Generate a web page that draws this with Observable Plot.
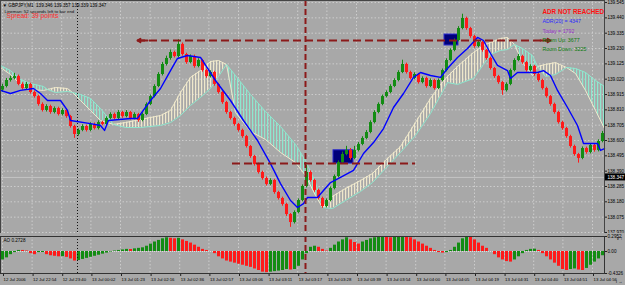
<!DOCTYPE html>
<html><head><meta charset="utf-8">
<script src="https://cdn.jsdelivr.net/npm/d3@7"></script>
<script src="https://cdn.jsdelivr.net/npm/@observablehq/plot@0.6"></script>
<style>
html,body{margin:0;padding:0;background:#a8a8a8;}
#chart{position:relative;width:625px;height:285px;overflow:hidden;background:#a8a8a8;}
#chart svg{position:absolute;left:0;display:block;overflow:visible;}
</style></head><body><div id="chart"></div>
<script>
// ---------- DATA ----------
const headerText = "▼ GBPJPY,M1  139.346 139.357 139.339 139.347";
const timerText = "Lineman: 52 seconds left to bar end";
const spreadText = "Spread: 39 points";
const infoLabels = ["ADR NOT REACHED", "ADR(20) = 4347", "Today = 1792", "Room Up: 3677", "Room Down: 3225"];
const aoLabel = "AO 0.2728";

const priceTicks = [139.545, 139.440, 139.335, 139.230, 139.125, 139.020, 138.915, 138.810, 138.705, 138.600, 138.495, 138.390, 138.285, 138.180, 138.075, 137.970];
const lastPrice = 138.347;
const aoTicks = [0.2952, 0, -0.4326];
const aoTickText = ["0.2952", "0.00", "-0.4326"];

const timeTicks = [0, 7.4, 14.8, 22.1, 29.5, 36.9, 44.3, 51.6, 59, 66.4, 73.8, 81.1, 88.5, 95.9, 103.3, 110.6, 118, 125.4, 132.8, 140.1, 147.5];
const timeLabels = ["12 Jul 2006", "12 Jul 22:54", "12 Jul 23:40", "13 Jul 00:02", "13 Jul 01:23", "13 Jul 02:16", "13 Jul 02:36", "13 Jul 02:57", "13 Jul 03:06", "13 Jul 03:11", "13 Jul 03:17", "13 Jul 03:28", "13 Jul 03:39", "13 Jul 03:54", "13 Jul 04:00", "13 Jul 04:05", "13 Jul 04:19", "13 Jul 04:31", "13 Jul 04:40", "13 Jul 04:51", "13 Jul 04:56"];

const opens = [138.945,
138.970,139.011,139.025,139.038,138.984,138.956,138.984,138.929,138.901,138.847,
138.806,138.833,138.792,138.819,138.778,138.806,138.764,138.696,138.641,138.669,
138.696,138.669,138.710,138.682,138.723,138.710,138.751,138.778,138.751,138.792,
138.764,138.792,138.751,138.778,138.737,138.778,138.847,138.901,138.970,139.052,
139.121,139.162,139.203,139.175,139.258,139.189,139.134,139.175,139.107,139.148,
139.079,139.038,139.066,138.984,138.929,138.860,138.792,138.751,138.710,138.669,
138.627,138.559,138.490,138.436,138.381,138.340,138.299,138.326,138.244,138.203,
138.162,138.093,138.038,138.107,138.189,138.285,138.381,138.326,138.258,138.203,
138.148,138.189,138.271,138.353,138.449,138.504,138.532,138.477,138.532,138.573,
138.614,138.655,138.723,138.792,138.847,138.901,138.929,138.970,139.011,139.066,
139.121,139.066,139.025,139.052,138.997,139.025,138.970,139.011,138.956,139.011,
139.079,139.148,139.217,139.285,139.367,139.436,139.367,139.312,139.244,139.271,
139.217,139.162,139.093,139.038,138.997,138.942,138.984,139.079,139.148,139.175,
139.134,139.079,139.107,139.052,139.011,138.956,138.901,138.847,138.792,138.723,
138.682,138.627,138.559,138.504,138.477,138.545,138.518,138.566,138.532,138.593];
const closes = [
138.970,139.011,139.025,139.038,138.984,138.956,138.984,138.929,138.901,138.847,
138.806,138.833,138.792,138.819,138.778,138.806,138.764,138.696,138.641,138.669,
138.696,138.669,138.710,138.682,138.723,138.710,138.751,138.778,138.751,138.792,
138.764,138.792,138.751,138.778,138.737,138.778,138.847,138.901,138.970,139.052,
139.121,139.162,139.203,139.175,139.258,139.189,139.134,139.175,139.107,139.148,
139.079,139.038,139.066,138.984,138.929,138.860,138.792,138.751,138.710,138.669,
138.627,138.559,138.490,138.436,138.381,138.340,138.299,138.326,138.244,138.203,
138.162,138.093,138.038,138.107,138.189,138.285,138.381,138.326,138.258,138.203,
138.148,138.189,138.271,138.353,138.449,138.504,138.532,138.477,138.532,138.573,
138.614,138.655,138.723,138.792,138.847,138.901,138.929,138.970,139.011,139.066,
139.121,139.066,139.025,139.052,138.997,139.025,138.970,139.011,138.956,139.011,
139.079,139.148,139.217,139.285,139.367,139.436,139.367,139.312,139.244,139.271,
139.217,139.162,139.093,139.038,138.997,138.942,138.984,139.079,139.148,139.175,
139.134,139.079,139.107,139.052,139.011,138.956,138.901,138.847,138.792,138.723,
138.682,138.627,138.559,138.504,138.477,138.545,138.518,138.566,138.532,138.593,
138.648];
const highs = [
138.985,139.025,139.040,139.060,139.048,138.995,138.998,138.992,138.940,138.910,
138.858,138.845,138.842,138.830,138.828,138.818,138.815,138.772,138.705,138.680,
138.708,138.705,138.722,138.720,138.735,138.732,138.762,138.790,138.788,138.805,
138.800,138.805,138.800,138.790,138.786,138.790,138.858,138.912,138.982,139.065,
139.135,139.178,139.220,139.212,139.290,139.268,139.198,139.186,139.185,139.160,
139.156,139.088,139.078,139.074,138.992,138.938,138.868,138.800,138.760,138.718,
138.678,138.635,138.566,138.498,138.445,138.390,138.350,138.338,138.334,138.252,
138.212,138.170,138.100,138.118,138.200,138.296,138.430,138.392,138.335,138.266,
138.212,138.200,138.282,138.364,138.460,138.520,138.560,138.545,138.560,138.586,
138.626,138.668,138.735,138.804,138.858,138.912,138.940,138.982,139.023,139.078,
139.150,139.130,139.075,139.064,139.060,139.036,139.034,139.022,139.020,139.022,
139.090,139.160,139.228,139.296,139.380,139.465,139.445,139.375,139.320,139.282,
139.280,139.225,139.170,139.100,139.046,139.005,138.995,139.090,139.160,139.190,
139.184,139.142,139.118,139.115,139.060,139.020,138.965,138.910,138.856,138.800,
138.732,138.690,138.636,138.568,138.512,138.556,138.555,138.578,138.575,138.605,
138.662];
const lows = [
138.930,138.960,139.000,139.015,138.975,138.945,138.945,138.918,138.890,138.835,
138.795,138.795,138.780,138.782,138.768,138.768,138.752,138.685,138.615,138.630,
138.660,138.658,138.660,138.672,138.672,138.700,138.700,138.742,138.740,138.742,
138.752,138.755,138.740,138.742,138.725,138.728,138.770,138.838,138.892,138.962,
139.042,139.110,139.150,139.165,139.165,139.178,139.122,139.125,139.095,139.098,
139.068,139.026,139.028,138.972,138.918,138.848,138.780,138.740,138.698,138.658,
138.615,138.548,138.478,138.425,138.370,138.328,138.288,138.290,138.232,138.192,
138.150,138.080,138.005,138.028,138.098,138.180,138.275,138.315,138.246,138.192,
138.135,138.138,138.180,138.262,138.344,138.440,138.495,138.466,138.468,138.522,
138.564,138.605,138.646,138.714,138.783,138.838,138.892,138.920,138.962,139.002,
139.058,139.055,139.014,139.016,138.986,138.988,138.958,138.962,138.945,138.948,
139.002,139.070,139.140,139.208,139.276,139.358,139.355,139.300,139.232,139.235,
139.205,139.150,139.082,139.026,138.985,138.910,138.932,138.975,139.070,139.140,
139.122,139.068,139.070,139.040,139.000,138.945,138.890,138.835,138.780,138.712,
138.670,138.615,138.548,138.492,138.445,138.468,138.506,138.508,138.520,138.522,
138.584];

const aoValues = [
-0.166,-0.125,-0.062,-0.021,0.021,0.021,0.010,-0.042,-0.062,-0.021,
-0.020,-0.062,-0.083,-0.094,-0.104,-0.100,-0.115,-0.146,-0.187,-0.177,
-0.156,-0.135,-0.114,-0.094,-0.073,-0.052,-0.031,-0.010,0.010,0.021,
0.031,0.042,0.040,0.052,0.062,0.073,0.104,0.146,0.187,0.218,
0.250,0.270,0.260,0.250,0.260,0.229,0.198,0.166,0.125,0.083,
0.042,0.021,0.000,-0.042,-0.104,-0.146,-0.187,-0.208,-0.229,-0.250,
-0.270,-0.291,-0.312,-0.343,-0.374,-0.406,-0.416,-0.406,-0.395,-0.385,
-0.374,-0.354,-0.364,-0.354,-0.291,-0.166,-0.042,0.083,0.104,0.083,
0.042,0.010,0.062,0.125,0.187,0.229,0.270,0.229,0.177,0.146,
0.187,0.218,0.250,0.270,0.281,0.291,0.281,0.270,0.281,0.289,
0.295,0.291,0.270,0.229,0.187,0.146,0.104,0.062,0.021,-0.021,
-0.031,-0.021,0.021,0.083,0.166,0.250,0.291,0.281,0.229,0.166,
0.104,0.062,0.000,-0.062,-0.125,-0.166,-0.198,-0.208,-0.166,-0.104,
-0.042,0.021,0.042,0.046,0.021,-0.042,-0.104,-0.166,-0.229,-0.291,
-0.354,-0.374,-0.354,-0.343,-0.364,-0.374,-0.333,-0.270,-0.208,-0.146,
-0.083];

const cloudX = [-0.5,2,4.5,7,10.25,11.25,13.25,16.25,17.5,19.5,22,24.5,27.75,30.75,34.5,39.5,42,44.5,47,49.5,52,54,56,58.25,62,65.75,69.5,73.25,75.75,78.25,80,82.5,85.75,89.5,92.5,95.75,99.5,103.25,107,109.5,111.25,113.75,117.75,120.25,122,124.5,126.25,128,130,132.5,133.75,135.75,138.25,141,143.25,145.75,148.25,150.5];
const spanA = [139.114,139.079,139.018,138.990,138.970,138.949,138.929,138.936,138.929,138.915,138.888,138.819,138.710,138.689,138.689,138.703,138.723,138.771,138.840,138.895,138.956,139.039,139.121,139.045,138.915,138.799,138.696,138.573,138.463,138.312,138.141,138.134,138.189,138.251,138.312,138.408,138.518,138.634,138.785,138.908,138.997,138.984,139.025,139.121,139.189,139.217,139.223,139.258,139.230,139.182,139.107,139.039,139.052,139.100,139.093,139.066,139.011,138.970];
const spanB = [139.100,139.052,138.984,138.949,138.943,138.949,138.963,138.956,138.929,138.874,138.806,138.737,138.710,138.723,138.744,138.771,138.806,138.929,139.032,139.079,139.141,139.148,139.121,138.792,138.662,138.607,138.518,138.449,138.360,138.223,138.141,138.217,138.271,138.326,138.374,138.463,138.559,138.723,138.888,138.984,139.038,139.107,139.203,139.251,139.271,139.299,139.306,139.258,139.134,139.045,139.107,139.121,139.134,139.100,139.059,138.943,138.806,138.682];

const blueX = [-0.5,2,4.5,7.75,9.5,11.25,14.5,16.25,17,22,24.5,25.5,26.5,32,33.75,37,39.5,42,43.75,46.25,49.5,53.25,57,60.25,63.75,67,69.5,72,73.75,75.25,76.25,78.75,80.25,82,84.5,87.75,90.25,92.75,95.25,97.75,100.25,102.75,104.5,107,109.5,111.25,113.75,116.25,118.75,120.25,122,123.75,126.25,127,128.75,133.75,135.25,137,138.75,141.25,143.75,145.25,148.75,149.5,150.5];
const blueY = [138.943,138.922,138.943,138.956,138.922,138.874,138.874,138.806,138.737,138.716,138.703,138.669,138.737,138.751,138.751,138.874,138.956,139.079,139.162,139.182,139.169,139.011,138.874,138.737,138.600,138.442,138.305,138.189,138.141,138.168,138.210,138.210,138.258,138.312,138.347,138.395,138.511,138.586,138.682,138.826,138.922,139.032,139.066,139.045,139.032,139.093,139.169,139.230,139.306,139.285,139.196,139.114,139.079,139.025,139.066,139.066,139.079,139.045,138.943,138.826,138.703,138.579,138.579,138.532,138.545];

const levelY = [139.285, 138.442];
const levelFrom = [33.75, 57.5];
const levelTo = [137, 103.25];
const boxX1 = [82.75, 110.5], boxX2 = [87.75, 114];
const boxTop = [138.533, 139.326], boxBottom = [138.442, 139.251];
const sepDotted = 18.75;
const sepRed = 75.75;

// ---------- BUILD ----------
const candles = closes.map((c, i) => ({i, o: opens[i], h: highs[i], l: lows[i], c}));
const ups = candles.filter(d => d.c >= d.o), downs = candles.filter(d => d.c < d.o);
const cloud = cloudX.map((x, i) => ({x, a: spanA[i], b: spanB[i]}));
const blue = blueX.map((x, i) => ({x, y: blueY[i]}));
const levels = levelY.map((y, i) => ({y, x1: levelFrom[i], x2: levelTo[i]}));
const boxes = boxX1.map((x, i) => ({x1: x, x2: boxX2[i], y1: boxBottom[i], y2: boxTop[i]}));
const ao = aoValues.map((v, i) => ({i, v, up: i === 0 ? true : v > aoValues[i - 1]}));

const GREEN = "#138c13", RED = "#ff1a1a", DKRED = "#8b1a1a";
const TEAL = "#8ee8cf", CREAM = "#efe8cc";
const FONT = "Liberation Sans, Arial, sans-serif";
const xDomain = [-0.5, 150.5];
const infoColors = ["#ff1010", "#2a2aff", "#9932cc", "#0a7a0a", "#0a7a0a"];
const infoY = [11, 21, 31, 40, 49];

const infoMarks = infoLabels.map((t, i) => Plot.text([t], {
  frameAnchor: "top-left", dx: 542, dy: infoY[i],
  fontSize: i === 0 ? 6.3 : 5.3, fontWeight: i === 0 ? "bold" : "normal",
  fill: infoColors[i], textAnchor: "start", lineAnchor: "middle"
}));

const main = Plot.plot({
  width: 625, height: 233,
  marginLeft: 0, marginRight: 21, marginTop: 0, marginBottom: 0,
  style: {background: "#a8a8a8", fontFamily: FONT, color: "#000", overflow: "visible"},
  x: {domain: xDomain, axis: null},
  y: {domain: [137.963, 139.559], axis: null},
  marks: [
    Plot.gridY(priceTicks, {stroke: "#cdcdcd", strokeOpacity: 1, strokeDasharray: "1.5,2"}),
    Plot.gridX(timeTicks, {stroke: "#cdcdcd", strokeOpacity: 1, strokeDasharray: "1.5,2"}),
    Plot.ruleY([lastPrice], {stroke: "#c4c4c4", strokeWidth: 1}),
    Plot.areaY(cloud, {x: "x", y1: "b", y2: d => Math.max(d.a, d.b), fill: "url(#hatchA)"}),
    Plot.areaY(cloud, {x: "x", y1: "a", y2: d => Math.max(d.a, d.b), fill: "url(#hatchB)"}),
    Plot.line(cloud, {x: "x", y: "b", stroke: CREAM, strokeWidth: 1}),
    Plot.line(cloud, {x: "x", y: "a", stroke: TEAL, strokeWidth: 1}),
    Plot.ruleX([sepDotted], {stroke: "#111", strokeDasharray: "1,2"}),
    Plot.rect(boxes, {x1: "x1", x2: "x2", y1: "y1", y2: "y2", fill: "#00007a", stroke: "#2a2ad0"}),
    Plot.ruleX(ups, {x: "i", y1: "l", y2: "h", stroke: GREEN, strokeWidth: 1}),
    Plot.ruleX(downs, {x: "i", y1: "l", y2: "h", stroke: RED, strokeWidth: 1}),
    Plot.ruleX(ups, {x: "i", y1: "o", y2: "c", stroke: GREEN, strokeWidth: 3}),
    Plot.ruleX(downs, {x: "i", y1: "o", y2: "c", stroke: RED, strokeWidth: 3}),
    Plot.line(blue, {x: "x", y: "y", stroke: "#0000ff", strokeWidth: 1.4}),
    Plot.ruleX([sepRed], {stroke: DKRED, strokeWidth: 2, strokeDasharray: "6,3"}),
    Plot.ruleY(levels, {y: "y", x1: "x1", x2: "x2", stroke: DKRED, strokeWidth: 2, strokeDasharray: "8,4"}),
    Plot.arrow(levels.slice(0, 1), {x1: d => d.x1 + 2.5, x2: "x1", y1: "y", y2: "y", stroke: DKRED, strokeWidth: 2, headLength: 6}),
    Plot.arrow(levels.slice(0, 1), {x1: d => d.x2 - 2.5, x2: "x2", y1: "y", y2: "y", stroke: DKRED, strokeWidth: 2, headLength: 6}),
    Plot.text([headerText], {frameAnchor: "top-left", dx: 2, dy: 3, fontSize: 4.6, textAnchor: "start", lineAnchor: "top", fill: "#000"}),
    Plot.text([timerText], {frameAnchor: "top-left", dx: 4, dy: 9.5, fontSize: 4.4, textAnchor: "start", lineAnchor: "top", fill: "#111"}),
    Plot.text([spreadText], {frameAnchor: "top-left", dx: 6, dy: 13, fontSize: 6.6, textAnchor: "start", lineAnchor: "top", fill: "#ff2a2a"}),
    ...infoMarks,
    Plot.ruleX([150.5], {stroke: "#222"}),
    Plot.axisY(priceTicks, {anchor: "right", tickFormat: d => d.toFixed(3), tickSize: 2, tickPadding: 1, fontSize: 4.6, stroke: "#222"}),
    Plot.rect([lastPrice], {x1: 150.5, x2: 155.75, y1: d => d - 0.024, y2: d => d + 0.024, fill: "#000"}),
    Plot.text([lastPrice], {x: 150.5, y: d => d, text: d => d.toFixed(3), dx: 3, textAnchor: "start", fill: "#fff", fontSize: 4.6}),
    Plot.frame({stroke: "#444"})
  ]
});
d3.select(main).insert("defs", ":first-child").html(
  `<pattern id="hatchA" patternUnits="userSpaceOnUse" width="3" height="4"><rect x="0" y="0" width="1.2" height="4" fill="${TEAL}"/></pattern>` +
  `<pattern id="hatchB" patternUnits="userSpaceOnUse" width="3" height="4"><rect x="0" y="0" width="1.2" height="4" fill="${CREAM}"/></pattern>`
);
main.style.top = "0px";

const labelMap = new Map(timeTicks.map((t, i) => [t, timeLabels[i]]));
const aoMap = new Map(aoTicks.map((t, i) => [t, aoTickText[i]]));
const aoPlot = Plot.plot({
  width: 625, height: 52,
  marginLeft: 0, marginRight: 21, marginTop: 3, marginBottom: 12,
  style: {background: "#a8a8a8", fontFamily: FONT, color: "#000", overflow: "visible"},
  x: {domain: xDomain, axis: null},
  y: {domain: [-0.4326, 0.2952], axis: null},
  marks: [
    Plot.gridX(timeTicks, {stroke: "#cdcdcd", strokeOpacity: 1, strokeDasharray: "1.5,2"}),
    Plot.ruleY([0], {stroke: "#dcdcdc", strokeDasharray: "1,1"}),
    Plot.ruleX(ao.filter(d => d.up), {x: "i", y1: 0, y2: "v", stroke: GREEN, strokeWidth: 3}),
    Plot.ruleX(ao.filter(d => !d.up), {x: "i", y1: 0, y2: "v", stroke: RED, strokeWidth: 3}),
    Plot.ruleX([sepDotted], {stroke: "#111", strokeDasharray: "1,2"}),
    Plot.ruleX([sepRed], {stroke: DKRED, strokeWidth: 2, strokeDasharray: "6,3"}),
    Plot.text([aoLabel], {frameAnchor: "top-left", dx: 3, dy: 2.5, fontSize: 4.6, textAnchor: "start", lineAnchor: "top", fill: "#000"}),
    Plot.axisY(aoTicks, {anchor: "right", tickFormat: d => aoMap.get(d), tickSize: 2, tickPadding: 1, fontSize: 4.6, stroke: "#222"}),
    Plot.axisX(timeTicks, {anchor: "bottom", tickFormat: d => labelMap.get(d), tickSize: 3, tickPadding: 1, textAnchor: "start", dx: 1, fontSize: 4.3, stroke: "#222"}),
    Plot.frame({stroke: "#333"})
  ]
});
aoPlot.style.top = "233px";

const root = document.getElementById("chart");
root.appendChild(main);
root.appendChild(aoPlot);
</script>
</body></html>
